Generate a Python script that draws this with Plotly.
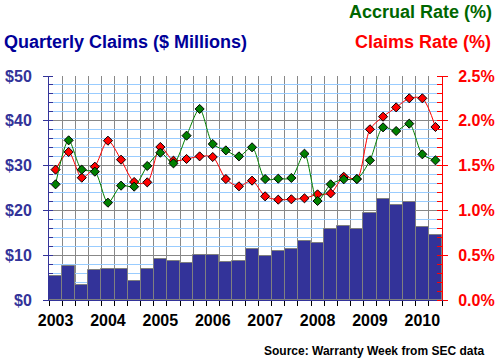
import plotly.graph_objects as go

quarters = list(range(30))  # 2003 Q1 .. 2010 Q2
years = ["2003", "2004", "2005", "2006", "2007", "2008", "2009", "2010"]
claims_musd = [5.3, 7.7, 3.3, 6.6, 7.0, 7.0, 4.2, 7.0, 9.1, 8.6,
               8.2, 10.0, 10.0, 8.4, 8.6, 11.3, 9.8, 10.9, 11.3, 13.1,
               12.7, 15.8, 16.5, 15.8, 19.4, 22.5, 21.1, 21.8, 16.2, 14.4]
claims_rate = [1.455, 1.652, 1.365, 1.488, 1.778, 1.566, 1.317, 1.313, 1.708, 1.555,
               1.574, 1.603, 1.596, 1.350, 1.269, 1.332, 1.157, 1.120, 1.124, 1.135,
               1.179, 1.190, 1.376, 1.350, 1.905, 2.046, 2.150, 2.251, 2.251, 1.931]
accrual_rate = [1.291, 1.782, 1.455, 1.432, 1.086, 1.276, 1.265, 1.496, 1.644, 1.525,
                1.834, 2.132, 1.741, 1.670, 1.603, 1.704, 1.350, 1.354, 1.362, 1.633,
                1.105, 1.291, 1.347, 1.350, 1.559, 1.927, 1.886, 1.968, 1.626, 1.559]

NAVY = "#333399"
RED = "#FF0000"
GREEN = "#008000"
FONT = "Liberation Sans"

fig = go.Figure()
fig.add_trace(go.Bar(x=quarters, y=claims_musd, marker=dict(color=NAVY, line=dict(color="#808080", width=1)),
                     width=1, yaxis="y"))
fig.add_trace(go.Scatter(x=quarters, y=claims_rate, yaxis="y2", mode="lines+markers",
                         line=dict(color=RED, width=1, shape="spline", smoothing=0.8),
                         marker=dict(symbol="diamond", size=7, color=RED, line=dict(color="black", width=1))))
fig.add_trace(go.Scatter(x=quarters, y=accrual_rate, yaxis="y2", mode="lines+markers",
                         line=dict(color=GREEN, width=1, shape="spline", smoothing=0.8),
                         marker=dict(symbol="diamond", size=7, color=GREEN, line=dict(color="black", width=1))))

year_pos = [q for q in quarters if q % 4 == 0]
boundaries = [q - 0.5 for q in quarters] + [quarters[-1] + 0.5]

fig.update_layout(
    width=497, height=362,
    margin=dict(l=49, r=55, t=76, b=62, autoexpand=False),
    paper_bgcolor="white", plot_bgcolor="white",
    showlegend=False, bargap=0,
    font=dict(family=FONT, weight="bold"),
    xaxis=dict(range=[-0.5, 29.5], tickmode="array", tickvals=year_pos, ticktext=years,
               ticks="", showgrid=False, zeroline=False,
               showline=True, linecolor=NAVY, linewidth=1,
               tickfont=dict(family=FONT, size=16, color="black", weight="bold"),
               ticklabelstandoff=6,
               minor=dict(tickmode="array", tickvals=boundaries, showgrid=True, gridcolor="#888888",
                          gridwidth=1, ticks="outside", ticklen=5, tickcolor="black")),
    yaxis=dict(range=[0, 50], tickmode="linear", tick0=0, dtick=10, tickprefix="$",
               showgrid=True, gridcolor="#888888", gridwidth=1, zeroline=False,
               showline=True, linecolor=NAVY, linewidth=1,
               ticks="outside", ticklen=5, tickcolor=NAVY,
               tickfont=dict(family=FONT, size=16, color=NAVY, weight="bold"),
               ticklabelstandoff=8,
               minor=dict(dtick=2, showgrid=True, gridcolor="#99CCFF", gridwidth=1,
                          ticks="inside", ticklen=4, tickcolor=NAVY)),
    yaxis2=dict(range=[0, 2.5], overlaying="y", side="right", tickmode="linear", tick0=0, dtick=0.5,
                tickformat=".1f", ticksuffix="%", showgrid=False, zeroline=False,
                showline=True, linecolor=RED, linewidth=1,
                ticks="outside", ticklen=5, tickcolor=RED,
                tickfont=dict(family=FONT, size=16, color=RED, weight="bold"),
                ticklabelstandoff=7,
                minor=dict(dtick=0.1, ticks="inside", ticklen=5, tickcolor=RED, showgrid=False)),
    annotations=[
        dict(text="Quarterly Claims ($ Millions)", xref="paper", yref="paper", x=0, y=1,
             xanchor="left", yanchor="middle", xshift=-47, yshift=34, showarrow=False,
             font=dict(family=FONT, size=18, color="#000099", weight="bold")),
        dict(text="Accrual Rate (%)", xref="paper", yref="paper", x=1, y=1,
             xanchor="right", yanchor="middle", xshift=52, yshift=64, showarrow=False,
             font=dict(family=FONT, size=18, color="#006600", weight="bold")),
        dict(text="Claims Rate (%)", xref="paper", yref="paper", x=1, y=1,
             xanchor="right", yanchor="middle", xshift=51, yshift=34, showarrow=False,
             font=dict(family=FONT, size=18, color=RED, weight="bold")),
        dict(text="Source: Warranty Week from SEC data", xref="paper", yref="paper", x=1, y=0,
             xanchor="right", yanchor="middle", xshift=44, yshift=-51, showarrow=False,
             font=dict(family=FONT, size=12, color="black", weight="bold")),
    ],
)

fig.write_html("out.html", config={"displayModeBar": False},
               post_script="document.body.style.margin='0px';")
